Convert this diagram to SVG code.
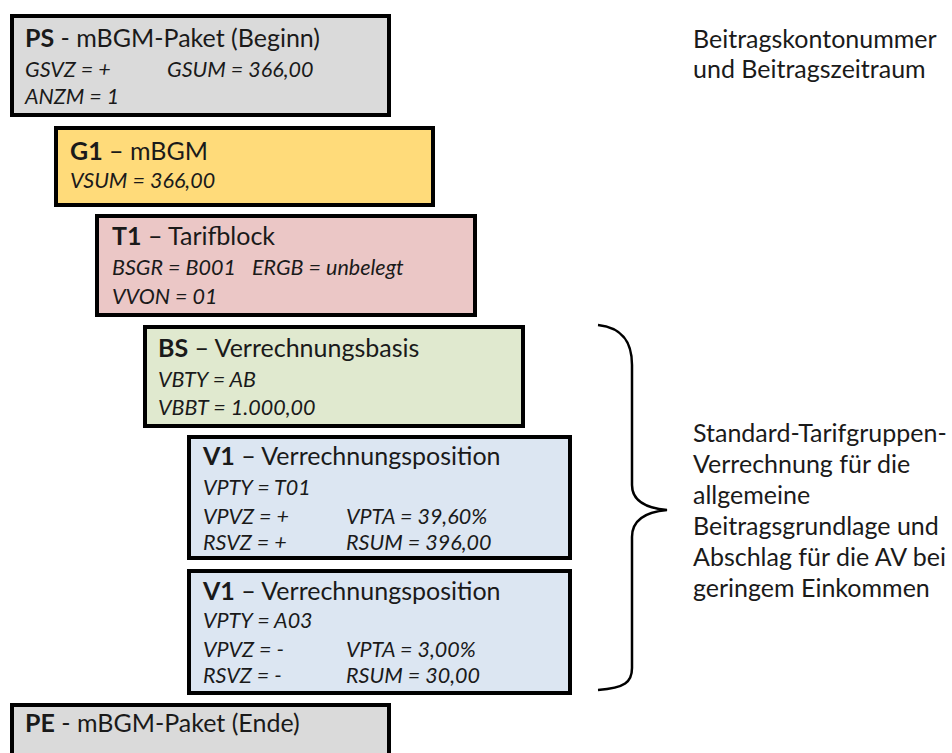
<svg xmlns="http://www.w3.org/2000/svg" width="952" height="753" viewBox="0 0 952 753">
<style>
.box{stroke:#000;stroke-width:4}
.t{font-family:Lato,"Liberation Sans",sans-serif;font-size:25px;fill:#1a1a1a}
.b{font-weight:bold}
.a{font-family:Lato,"Liberation Sans",sans-serif;font-size:21.5px;font-style:italic;fill:#1a1a1a}
.n{font-family:Lato,"Liberation Sans",sans-serif;font-size:25px;fill:#1a1a1a}
</style>
<rect width="952" height="753" fill="#fff"/>
<g id="PS">
<rect class="box" x="12" y="16" width="377" height="99" fill="#dadada"/>
<text class="t" x="25" y="47"><tspan class="b">PS</tspan> - mBGM-Paket (Beginn)</text>
<text class="a" x="25" y="77">GSVZ = +</text>
<text class="a" x="167" y="77">GSUM = 366,00</text>
<text class="a" x="25" y="104">ANZM = 1</text>
</g>
<g id="G1">
<rect class="box" x="56" y="128" width="377" height="77" fill="#ffdb7a"/>
<text class="t" x="70" y="160"><tspan class="b">G1</tspan> – mBGM</text>
<text class="a" x="70" y="188">VSUM = 366,00</text>
</g>
<g id="T1">
<rect class="box" x="97" y="216" width="378" height="99" fill="#ebc7c6"/>
<text class="t" x="112" y="245"><tspan class="b">T1</tspan> – Tarifblock</text>
<text class="a" x="112" y="275">BSGR = B001</text>
<text class="a" x="252" y="275">ERGB = unbelegt</text>
<text class="a" x="112" y="304">VVON = 01</text>
</g>
<g id="BS">
<rect class="box" x="145" y="327" width="378" height="99" fill="#e0e9cf"/>
<text class="t" x="158" y="357"><tspan class="b">BS</tspan> – Verrechnungsbasis</text>
<text class="a" x="158" y="387">VBTY = AB</text>
<text class="a" x="158" y="415">VBBT = 1.000,00</text>
</g>
<g id="V1a">
<rect class="box" x="189" y="437" width="381" height="121" fill="#dce6f2"/>
<text class="t" x="203" y="465"><tspan class="b">V1</tspan> – Verrechnungsposition</text>
<text class="a" x="203" y="495">VPTY = T01</text>
<text class="a" x="203" y="524">VPVZ = +</text>
<text class="a" x="346" y="524">VPTA = 39,60%</text>
<text class="a" x="203" y="550">RSVZ = +</text>
<text class="a" x="346" y="550">RSUM = 396,00</text>
</g>
<g id="V1b">
<rect class="box" x="189" y="571" width="381" height="122" fill="#dce6f2"/>
<text class="t" x="203" y="600"><tspan class="b">V1</tspan> – Verrechnungsposition</text>
<text class="a" x="203" y="628">VPTY = A03</text>
<text class="a" x="203" y="657">VPVZ = -</text>
<text class="a" x="346" y="657">VPTA = 3,00%</text>
<text class="a" x="203" y="683">RSVZ = -</text>
<text class="a" x="346" y="683">RSUM = 30,00</text>
</g>
<g id="PE">
<rect class="box" x="12" y="705" width="377" height="99" fill="#dadada"/>
<text class="t" x="25" y="732"><tspan class="b">PE</tspan> - mBGM-Paket (Ende)</text>
</g>
<g id="note1">
<text class="n" x="693" y="48">Beitragskontonummer</text>
<text class="n" x="693" y="78">und Beitragszeitraum</text>
</g>
<g id="connectors">
<path d="M598,325 C625,328 632,345 632,365 L632,485 C632,500 645,508 667,510 C645,512 632,520 632,537 L632,668 C632,682 625,688 598,690" fill="none" stroke="#000" stroke-width="2.5"/>
</g>
<g id="note2">
<text class="n" x="693" y="442">Standard-Tarifgruppen-</text>
<text class="n" x="693" y="473">Verrechnung für die</text>
<text class="n" x="693" y="504">allgemeine</text>
<text class="n" x="693" y="535">Beitragsgrundlage und</text>
<text class="n" x="693" y="566">Abschlag für die AV bei</text>
<text class="n" x="693" y="597">geringem Einkommen</text>
</g>
</svg>
